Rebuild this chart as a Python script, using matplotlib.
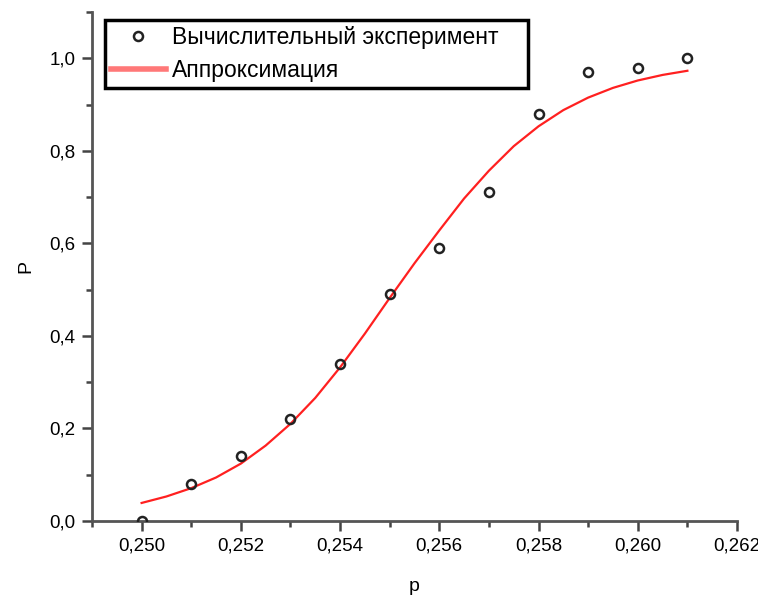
import matplotlib
matplotlib.use("Agg")
import matplotlib.pyplot as plt
from matplotlib.ticker import MultipleLocator, FuncFormatter

plt.rcParams['font.family'] = ['Liberation Sans', 'DejaVu Sans']

# experimental points
p_exp = [0.250, 0.251, 0.252, 0.253, 0.254, 0.255, 0.256, 0.257, 0.258, 0.259, 0.260, 0.261]
P_exp = [0.00, 0.08, 0.14, 0.22, 0.34, 0.49, 0.59, 0.71, 0.88, 0.97, 0.98, 1.00]

# approximation curve
p_fit = [0.2500, 0.2505, 0.2510, 0.2515, 0.2520, 0.2525, 0.2530, 0.2535, 0.2540, 0.2545,
         0.2550, 0.2555, 0.2560, 0.2565, 0.2570, 0.2575, 0.2580, 0.2585, 0.2590, 0.2595,
         0.2600, 0.2605, 0.2610]
P_fit = [0.039, 0.053, 0.071, 0.094, 0.124, 0.163, 0.210, 0.266, 0.332, 0.405,
         0.482, 0.557, 0.628, 0.697, 0.757, 0.810, 0.853, 0.888, 0.915, 0.936,
         0.952, 0.964, 0.973]

legend_labels = ["Вычислительный эксперимент", "Аппроксимация"]

W, H = 758, 597
fig = plt.figure(figsize=(W/100, H/100), dpi=100)
x0, x1, y0, y1 = 92, 737, 521, 12
ax = fig.add_axes([x0/W, 1-y0/H, (x1-x0)/W, (y0-y1)/H])

ax.plot(p_exp, P_exp, linestyle='none', marker='o', markersize=6.5,
        markerfacecolor='none', markeredgecolor='#222222', markeredgewidth=1.8,
        label=legend_labels[0], zorder=3)
ax.plot(p_fit, P_fit, color='#ff2020', linewidth=1.6, label=legend_labels[1], zorder=2)

ax.set_xlim(0.249, 0.262)
ax.set_ylim(0, 1.1)
ax.xaxis.set_major_locator(MultipleLocator(0.002))
ax.xaxis.set_minor_locator(MultipleLocator(0.001))
ax.yaxis.set_major_locator(MultipleLocator(0.2))
ax.yaxis.set_minor_locator(MultipleLocator(0.1))

ax.xaxis.set_major_formatter(FuncFormatter(lambda v, pos: f"{v:.3f}".replace('.', ',')))
ax.yaxis.set_major_formatter(FuncFormatter(lambda v, pos: f"{v:.1f}".replace('.', ',')))

for s in ['top', 'right']:
    ax.spines[s].set_visible(False)
for s in ['left', 'bottom']:
    ax.spines[s].set_linewidth(2)
    ax.spines[s].set_color('#555555')

ax.tick_params(axis='both', which='major', direction='out', length=7.5, width=1.8,
               color='#444444', labelsize=13.5, pad=4.5)
ax.tick_params(axis='both', which='minor', direction='out', length=4.5, width=1.8,
               color='#444444')

ax.set_xlabel('p', fontsize=14, labelpad=17)
ax.set_ylabel('P', fontsize=14, labelpad=10.5)

lx0, lx1, ly0, ly1 = 105, 528, 20, 87
leg = ax.legend(loc='upper left',
                bbox_to_anchor=((lx0-x0)/(x1-x0), (y0-ly0)/(y0-y1),
                                (lx1-lx0)/(x1-x0), 0),
                mode='expand', borderaxespad=0,
                fontsize=16.5, frameon=True, fancybox=False, handlelength=2.4,
                borderpad=0.26, labelspacing=0.42, handletextpad=0.25)
leg.get_frame().set_edgecolor('black')
leg.get_frame().set_linewidth(2.5)
leg.get_frame().set_alpha(1)
hl = leg.get_lines()
hl[1].set_linewidth(4)
hl[1].set_color('#ff7878')

fig.savefig('out.png', dpi=100)
